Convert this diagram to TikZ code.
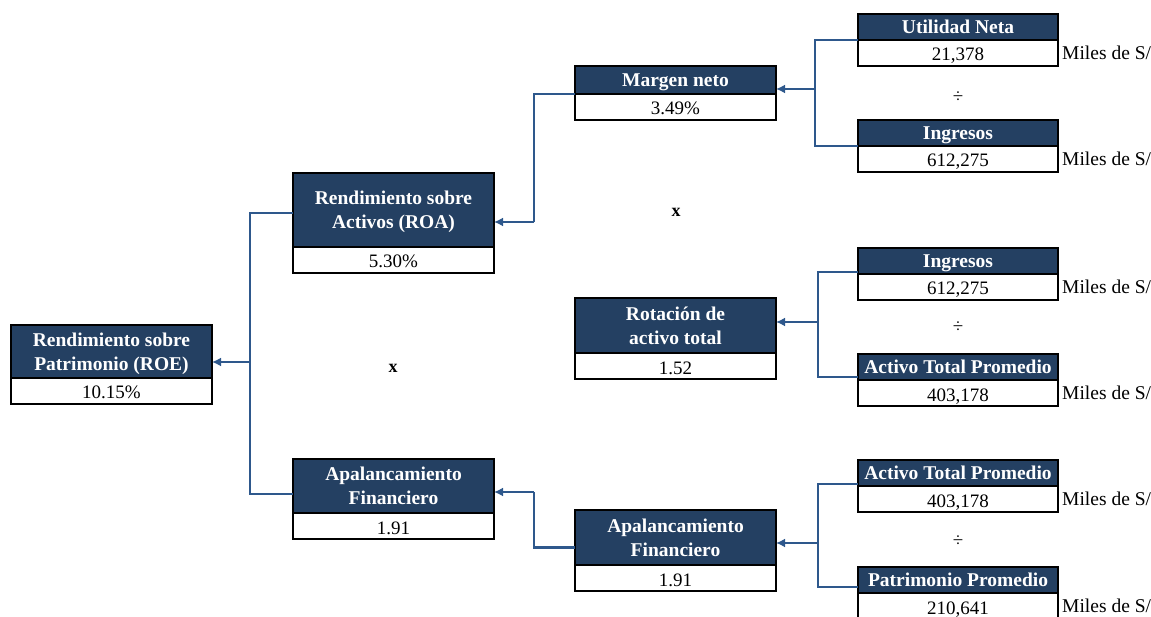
\documentclass[tikz,border=0pt]{standalone}
\usepackage{fontspec}
\setmainfont{Liberation Serif}
\usetikzlibrary{positioning,arrows.meta}
\definecolor{hdrblue}{RGB}{36,64,98}
\definecolor{linkblue}{RGB}{46,88,140}

\begin{document}
\begin{tikzpicture}[x=1pt,y=-1pt,
  hdr/.style={draw=black, line width=1.2pt, fill=hdrblue, text=white,
    font=\fontsize{19.5}{24}\selectfont\bfseries, align=center,
    minimum width=201pt, inner sep=0pt, outer sep=0pt, text depth=0pt},
  val/.style={draw=black, line width=1.6pt, fill=white,
    font=\fontsize{19}{22}\selectfont, minimum width=201pt,
    minimum height=26pt, inner sep=0pt, outer sep=0pt,
    text height=17pt, text depth=1pt},
  unit/.style={font=\fontsize{19.5}{22}\selectfont, inner sep=1pt},
  op/.style={font=\fontsize{19}{22}\selectfont},
  link/.style={draw=linkblue, line width=2.2pt},
  arr/.style={link, -{Latex[length=9pt,width=9pt]}}]
  \useasboundingbox (0,0) rectangle (1151,617);

  % left column
  \node[hdr, minimum height=53pt] (roeh) at (111.5,351.5) {Rendimiento sobre\\Patrimonio (ROE)};
  \node[val, below=0pt of roeh] (roev) {10.15\%};

  % second column
  \node[hdr, minimum height=74pt] (roah) at (393.5,210) {Rendimiento sobre\\Activos (ROA)};
  \node[val, below=0pt of roah] (roav) {5.30\%};
  \node[hdr, minimum height=54pt] (aplh) at (393.5,486) {Apalancamiento\\Financiero};
  \node[val, below=0pt of aplh] (aplv) {1.91};

  % third column
  \node[hdr, minimum height=28pt] (mgnh) at (675.5,80) {Margen neto};
  \node[val, below=0pt of mgnh] (mgnv) {3.49\%};
  \node[hdr, minimum height=55pt] (roth) at (675.5,325.5) {Rotación de\\activo total};
  \node[val, below=0pt of roth] (rotv) {1.52};
  \node[hdr, minimum height=55pt] (apmh) at (675.5,537.5) {Apalancamiento\\Financiero};
  \node[val, below=0pt of apmh] (apmv) {1.91};

  % right column
  \node[hdr, minimum height=26pt, minimum width=200pt] (unh) at (958,27) {Utilidad Neta};
  \node[val, minimum width=200pt, below=0pt of unh] (unv) {21,378};
  \node[unit, right=3pt of unv] (unm) {Miles de S/};
  \node[op] (d1) at (958,97) {÷};
  \node[hdr, minimum height=26pt, minimum width=200pt] (in1h) at (958,133) {Ingresos};
  \node[val, minimum width=200pt, below=0pt of in1h] (in1v) {612,275};
  \node[unit, right=3pt of in1v] (in1m) {Miles de S/};

  \node[hdr, minimum height=26pt, minimum width=200pt] (in2h) at (958,261) {Ingresos};
  \node[val, minimum width=200pt, below=0pt of in2h] (in2v) {612,275};
  \node[unit, right=3pt of in2v] (in2m) {Miles de S/};
  \node[op] (d2) at (958,327) {÷};
  \node[hdr, minimum height=26pt, minimum width=200pt] (atp1h) at (958,367) {Activo Total Promedio};
  \node[val, minimum width=200pt, below=0pt of atp1h] (atp1v) {403,178};
  \node[unit, right=3pt of atp1v] (atp1m) {Miles de S/};

  \node[hdr, minimum height=26pt, minimum width=200pt] (atp2h) at (958,473) {Activo Total Promedio};
  \node[val, minimum width=200pt, below=0pt of atp2h] (atp2v) {403,178};
  \node[unit, right=3pt of atp2v] (atp2m) {Miles de S/};
  \node[op] (d3) at (958,541) {÷};
  \node[hdr, minimum height=26pt, minimum width=200pt] (pph) at (958,580) {Patrimonio Promedio};
  \node[val, minimum width=200pt, below=0pt of pph] (ppv) {210,641};
  \node[unit, right=3pt of ppv] (ppm) {Miles de S/};

  % products
  \node[op, font=\fontsize{18}{22}\selectfont\bfseries] (x1) at (676,212) {x};
  \node[op, font=\fontsize{18}{22}\selectfont\bfseries] (x2) at (393,368) {x};

  % connectors
  \coordinate (jroe) at (250,362);
  \draw[link] ([yshift=-3pt]roah.west) -| (jroe) |- ([yshift=-8pt]aplh.west);
  \draw[arr] (jroe) -- (jroe -| roeh.east);

  \coordinate (jroa) at (534,222);
  \draw[link] (mgnh.south west) -| (jroa);
  \draw[arr] (jroa) -- (jroa -| roah.east);

  \coordinate (japl) at (534,492);
  \draw[link] ([yshift=-10pt]apmh.west) -| (japl);
  \draw[arr] (japl) -- (japl -| aplh.east);

  \coordinate (jmgn) at (815,89);
  \draw[link] (unh.south west) -| (jmgn) |- (in1h.south west);
  \draw[arr] (jmgn) -- (jmgn -| mgnh.east);

  \coordinate (jrot) at (818,322);
  \draw[link] ([yshift=2pt]in2h.south west) -| (jrot) |- ([yshift=3pt]atp1h.south west);
  \draw[arr] (jrot) -- (jrot -| roth.east);

  \coordinate (japm) at (818,543);
  \draw[link] ([yshift=2pt]atp2h.south west) -| (japm) |- ([yshift=6pt]pph.south west);
  \draw[arr] (japm) -- (japm -| apmh.east);
\end{tikzpicture}
\end{document}
